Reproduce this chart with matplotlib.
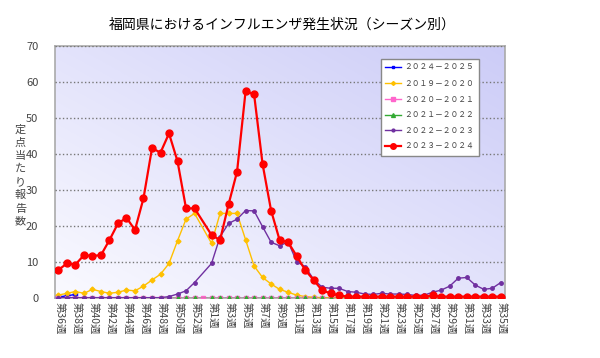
import numpy as np
import matplotlib
matplotlib.use('Agg')
import matplotlib.pyplot as plt

plt.rcParams['font.family'] = ['Noto Sans CJK JP', 'DejaVu Sans']

# weeks 36..53, 1..35
weeks = list(range(36, 54)) + list(range(1, 36))
nan = np.nan

s2024 = [0.3, 0.6, 1.0] + [nan] * 50

s2019 = [0.8, 1.3, 1.8, 1.3, 2.4, 1.8, 1.3, 1.6, 2.2, 2.0, 3.3, 5.0, 6.6, 9.6, 15.9, 21.9, 23.5, nan,
         15.2, 23.5, 23.5, 23.5, 16.2, 8.9, 5.7, 3.9, 2.4, 1.6, 0.8, 0.4, 0.2, 0.1, 0.1, 0.05, 0.05,
         0.0, 0.0, 0.0, 0.0, 0.0, 0.0, 0.0, 0.0, 0.0, 0.0, 0.0, 0.0, 0.0, 0.0, 0.0, 0.0, 0.0, 0.0]

s2020 = [0.05, 0.05, 0.05, 0.05, 0.05, 0.05, 0.05, 0.05, 0.05, 0.05, 0.05, 0.05, 0.05, 0.05, 0.05, 0.05, 0.05, 0.05,
         0.05, 0.05, 0.05, 0.05, 0.05, 0.05, 0.05, 0.05, 0.05, 0.05, 0.05, 0.05, 0.05, 0.05, 0.05, 0.05, 0.05,
         0.05, 0.05, 0.05, 0.05, 0.05, 0.05, 0.05, 0.05, 0.05, 0.05, 0.05, 0.05, 0.05, 0.05, 0.05, 0.05, 0.05, 0.05]

s2021 = [0.0, 0.0, 0.0, 0.0, 0.0, 0.0, 0.0, 0.0, 0.0, 0.0, 0.0, 0.0, 0.0, 0.0, 0.0, 0.0, 0.0, nan,
         0.0, 0.0, 0.0, 0.0, 0.0, 0.0, 0.0, 0.0, 0.0, 0.0, 0.0, 0.0, 0.0, 0.0, 0.0, 0.0, 0.0,
         0.0, 0.0, 0.0, 0.0, 0.0, 0.0, 0.0, 0.0, 0.0, 0.0, 0.0, 0.0, 0.0, 0.0, 0.0, 0.0, 0.0, 0.0]

s2022 = [0.1, 0.1, 0.1, 0.1, 0.1, 0.1, 0.1, 0.1, 0.1, 0.1, 0.1, 0.1, 0.1, 0.4, 1.1, 2.0, 4.3, nan,
         9.6, 17.0, 20.7, 21.9, 24.3, 24.2, 19.8, 15.5, 14.5, 15.6, 10.1, 8.7, 5.2, 3.0, 2.7, 2.7, 1.8,
         1.6, 1.1, 1.0, 1.3, 1.1, 1.1, 1.0, 0.7, 0.8, 1.6, 2.2, 3.3, 5.5, 5.7, 3.6, 2.4, 2.7, 4.3]

s2023 = [7.8, 9.6, 9.3, 11.9, 11.7, 11.9, 16.1, 20.7, 22.3, 18.9, 27.7, 41.6, 40.4, 45.7, 38.0, 24.9, 24.9, nan,
         17.5, 16.1, 26.0, 35.1, 57.4, 56.6, 37.2, 24.3, 16.1, 15.5, 11.7, 7.8, 5.0, 2.1, 1.3, 0.7, 0.4,
         0.4, 0.4, 0.4, 0.4, 0.4, 0.4, 0.4, 0.4, 0.4, 0.7, 0.4, 0.4, 0.4, 0.4, 0.4, 0.4, 0.4, 0.4]

x = np.arange(len(weeks))

fig = plt.figure(figsize=(6, 3.58), dpi=100)
ax = fig.add_axes([0.0917, 0.1676, 0.75, 0.7039])

# gradient background
gx, gy = np.meshgrid(np.linspace(0, 1, 200), np.linspace(0, 1, 200))
g = (gx * 0.5 + gy * 0.5)
c0 = np.array([0.98, 0.98, 1.0])
c1 = np.array([0.80, 0.80, 0.97])
img = c0 + (c1 - c0) * g[..., None]
ax.imshow(img, extent=[0, 1, 0, 1], transform=ax.transAxes, origin='lower',
          aspect='auto', zorder=0)

def line(vals, **kw):
    v = np.array(vals, dtype=float)
    m = ~np.isnan(v)
    return ax.plot(x[m], v[m], **kw)[0]

h1 = line(s2024, color='#0000ff', marker='s', ms=2.5, lw=1, label='２０２４－２０２５', zorder=3)
h2 = line(s2019, color='#ffc000', marker='D', ms=2.5, lw=1, label='２０１９－２０２０', zorder=4)
h3 = line(s2020, color='#ff66cc', marker='s', ms=3.5, lw=1, label='２０２０－２０２１', zorder=4)
h4 = line(s2021, color='#33aa33', marker='^', ms=3.5, lw=1, label='２０２１－２０２２', zorder=5)
h5 = line(s2022, color='#7030a0', marker='o', ms=2.5, lw=1, label='２０２２－２０２３', zorder=6)
h6 = line(s2023, color='#ff0000', marker='o', ms=5, lw=1.6, label='２０２３－２０２４', zorder=7)

ax.set_xlim(-0.4, 52.5)
ax.set_ylim(0, 70)
ax.set_yticks(range(0, 71, 10))
ax.yaxis.grid(True, color='#777777', linestyle=':', linewidth=1)
ax.set_axisbelow(False)
for gl in ax.get_ygridlines():
    gl.set_zorder(1)
ax.tick_params(axis='y', length=0, pad=12, labelsize=8, labelcolor='#444444')

ticks = x[::2]
ax.set_xticks(ticks)
ax.set_xticklabels(['第%d週' % weeks[i] for i in ticks], rotation=-90,
                   fontsize=7.5, color='#444444')
ax.tick_params(axis='x', length=0, pad=3)

for s in ax.spines.values():
    s.set_color('#aaaaaa')
    s.set_linewidth(1.2)

# stacked vertical y label
ylab = '定点当たり報告数'
for i, ch in enumerate(ylab):
    fig.text(0.034, 0.637 - i * 0.0366, ch, ha='center', va='center',
             fontsize=8, color='#444444')

fig.text(0.47, 0.93, '福岡県におけるインフルエンザ発生状況（シーズン別）', ha='center',
         va='center', fontsize=10)

leg = ax.legend(handles=[h1, h2, h3, h4, h5, h6], loc='upper left',
                bbox_to_anchor=(0.724, 0.947), fontsize=5.6, frameon=True,
                fancybox=False, edgecolor='#888888', framealpha=1,
                handlelength=2.0, handletextpad=0.4, labelspacing=1.0,
                borderpad=0.6, borderaxespad=0, markerscale=0.8)
for t in leg.get_texts():
    t.set_color('#444444')

fig.savefig('out.png', dpi=100)
